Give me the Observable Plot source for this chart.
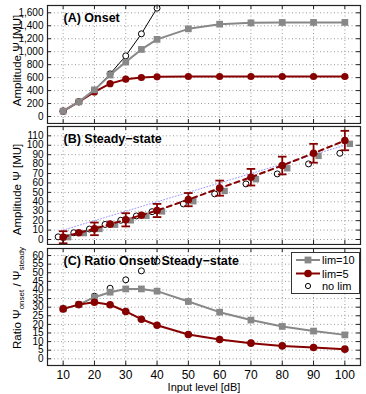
<!DOCTYPE html>
<html><head><meta charset="utf-8">
<script src="https://cdn.jsdelivr.net/npm/d3@7"></script>
<script src="https://cdn.jsdelivr.net/npm/@observablehq/plot@0.6"></script>
<style>
body{margin:0;background:#fff;}
#chart{position:relative;width:366px;height:394px;font-family:"Liberation Sans",Arial,sans-serif;}
#chart > svg{position:absolute;left:0;}
.legend{position:absolute;left:291px;top:252px;width:67px;height:40px;border:1px solid #333;background:#fff;}
.legend text{font-family:"Liberation Sans",Arial,sans-serif;font-size:11px;fill:#000;}
</style></head><body><div id="chart"></div>
<script>
// ---- data ----
const inputLevels = [10,15,20,25,30,35,40,50,60,70,80,90,100];
const noLimLevels = [10,15,20,25,30,35,40];
const xTicks = [10,20,30,40,50,60,70,80,90,100];

const onsetLim10 = [82,226,411,640,840,1035,1190,1353,1425,1445,1451,1452,1452];
const onsetLim5  = [82,226,380,507,576,602,612,617,617,617,617,617,617];
const onsetNoLim = [82,226,405,658,936,1276,1672];
const onsetTicks = [0,200,400,600,800,1000,1200,1400,1600];

const steadyLim10 = [2.5,6.8,11.2,15.7,20.3,25.2,29.8,40.6,51.5,64,75.6,88.7,101.5];
const steadyLim5  = [2.4,7.1,11.3,16.3,20.9,25.8,30.8,42.3,54.5,66.1,78.5,91.5,105];
const steadyLim5Err = [6.4,null,6.7,null,7,null,7,7,8,8.8,9.4,10,10.3];
const steadyNoLim = [2.8,7.2,11.1,16,20.4,25,29.5,37.8,48.4,59,69.6,80.2,91.5];
const steadyTicks = [0,10,20,30,40,50,60,70,80,90,100,110];
const refLineX = [10,100];
const refLineY = [10,100];

const ratioLim10 = [29,31.5,35.8,38.7,40.6,40.6,39.3,33.3,27.1,22.5,18.8,16.1,13.9];
const ratioLim5  = [29,31.5,32.9,31.4,27.5,23,19.5,14.1,11.2,9.1,7.5,6.6,5.6];
const ratioNoLim = [29,31.5,36.4,41,45.9,51.1,56.7];
const ratioTicks = [0,5,10,15,20,25,30,35,40,45,50,55,60];

// ---- tables ----
const rows = (xs, ys) => xs.map((x,i)=>({x, y: ys[i]}));
const errRows = inputLevels.map((x,i)=>({x, y: steadyLim5[i], e: steadyLim5Err[i]})).filter(d=>d.e!=null);
const refRows = rows(refLineX, refLineY);

// ---- style ----
const W = 366, ML = 47, MR = 6, PW = W - ML - MR;
const red = "#860000", gray = "#888888", ink = "#222";
const font = '"Liberation Sans", Arial, sans-serif';
const capSymbol = {draw(ctx){ ctx.moveTo(-4.3,0); ctx.lineTo(4.3,0); }};

function panel({top, height, mt, mb, yDomain, yTicks, marks, bottomAxis}) {
  const PH = height - mt - mb;
  const grid = [
    Plot.ruleX(xTicks, {x: d=>d, stroke:"#9a9a9a", strokeDasharray:"1,2.5", strokeWidth:1}),
    Plot.ruleY(yTicks, {y: d=>d, stroke:"#9a9a9a", strokeDasharray:"1,2.5", strokeWidth:1})
  ];
  const tail = [
    Plot.frame({stroke: ink, strokeWidth: 1.2}),
    Plot.tickY(yTicks, {y: d=>d, insetRight: PW-4, stroke: ink}),
    Plot.tickY(yTicks, {y: d=>d, insetLeft: PW-4, stroke: ink}),
    Plot.tickX(xTicks, {x: d=>d, insetBottom: PH-4, stroke: ink}),
    Plot.tickX(xTicks, {x: d=>d, insetTop: PH-4, stroke: ink}),
    Plot.axisY({ticks: yTicks, tickSize:0, tickPadding:4, fontSize:10, label:null})
  ];
  if (bottomAxis) tail.push(
    Plot.axisX({ticks: xTicks, tickSize:0, tickPadding:5, fontSize:12, label:null}),
    Plot.text(["Input level [dB]"], {frameAnchor:"bottom", lineAnchor:"middle", dy:22, fontSize:11})
  );
  const svg = Plot.plot({
    width: W, height, marginLeft: ML, marginRight: MR, marginTop: mt, marginBottom: mb,
    x: bottomAxis ? {domain:[5,105]} : {domain:[5,105], axis:null},
    y: {domain: yDomain},
    style: {fontFamily: font, color:"#000", background:"transparent"},
    marks: [...grid, ...marks, ...tail]
  });
  svg.style.top = top + "px";
  document.getElementById("chart").appendChild(svg);
  return svg;
}

const titleOpts = {frameAnchor:"top-left", textAnchor:"start", lineAnchor:"middle", dx:16, fontWeight:"bold", fontSize:12.5};
const ylabOpts = {frameAnchor:"left", textAnchor:"middle", rotate:-90, lineAnchor:"middle", dx:-30, fontSize:11.5};

// Panel A
panel({top:0, height:124, mt:5, mb:1, yDomain:[-108,1713], yTicks:onsetTicks, marks:[
  Plot.line(rows(noLimLevels, onsetNoLim), {x:"x", y:"y", stroke:"#000", strokeWidth:1}),
  Plot.dot(rows(noLimLevels, onsetNoLim), {x:"x", y:"y", r:3, stroke:"#000", fill:"#fff", strokeWidth:1}),
  Plot.line(rows(inputLevels, onsetLim5), {x:"x", y:"y", stroke:red, strokeWidth:2}),
  Plot.dot(rows(inputLevels, onsetLim5), {x:"x", y:"y", r:3.6, fill:red}),
  Plot.line(rows(inputLevels, onsetLim10), {x:"x", y:"y", stroke:gray, strokeWidth:2}),
  Plot.dot(rows(inputLevels, onsetLim10), {x:"x", y:"y", r:3.8, symbol:"square", fill:gray}),
  Plot.text(["(A) Onset"], {...titleOpts, dy:12}),
  Plot.text(["Amplitude Ψ [MU]"], {...ylabOpts, dy:-4})
]});

// Panel B
panel({top:124, height:121, mt:2, mb:1, yDomain:[-5.3,119.9], yTicks:steadyTicks, marks:[
  Plot.line(refRows, {x:"x", y:"y", stroke:"#9a9aff", strokeDasharray:"1,2", strokeWidth:1}),
  Plot.dot(rows(inputLevels, steadyLim10), {x:"x", y:"y", r:3.6, symbol:"square", fill:gray, dx:5}),
  Plot.dot(rows(inputLevels, steadyNoLim), {x:"x", y:"y", r:3, stroke:"#000", fill:"#fff", strokeWidth:1, dx:-5}),
  Plot.line(rows(inputLevels, steadyLim5), {x:"x", y:"y", stroke:red, strokeWidth:2, strokeDasharray:"5,4"}),
  Plot.ruleX(errRows, {x:"x", y1:d=>d.y-d.e, y2:d=>d.y+d.e, stroke:red, strokeWidth:1.8}),
  Plot.dot(errRows, {x:"x", y:d=>d.y-d.e, symbol:capSymbol, stroke:red, strokeWidth:1.8, fill:"none"}),
  Plot.dot(errRows, {x:"x", y:d=>d.y+d.e, symbol:capSymbol, stroke:red, strokeWidth:1.8, fill:"none"}),
  Plot.dot(rows(inputLevels, steadyLim5), {x:"x", y:"y", r:3.8, fill:red}),
  Plot.text(["(B) Steady−state"], {...titleOpts, dy:12.3}),
  Plot.text(["Amplitude Ψ [MU]"], {...ylabOpts, dy:4})
]});

// Panel C
const svgC = panel({top:246, height:148, mt:2, mb:29, yDomain:[-3.9,64.1], yTicks:ratioTicks, bottomAxis:true, marks:[
  Plot.dot(rows(noLimLevels, ratioNoLim), {x:"x", y:"y", r:3, stroke:"#000", fill:"#fff", strokeWidth:1}),
  Plot.line(rows(inputLevels, ratioLim10), {x:"x", y:"y", stroke:gray, strokeWidth:2}),
  Plot.dot(rows(inputLevels, ratioLim10), {x:"x", y:"y", r:3.8, symbol:"square", fill:gray}),
  Plot.line(rows(inputLevels, ratioLim5), {x:"x", y:"y", stroke:red, strokeWidth:2}),
  Plot.dot(rows(inputLevels, ratioLim5), {x:"x", y:"y", r:3.8, fill:red}),
  Plot.text(["(C) Ratio Onset/ Steady−state"], {...titleOpts, dy:12.7})
]});
// y label with subscripts
const lab = d3.select(svgC).append("text")
  .attr("transform", "translate(21,52) rotate(-90)")
  .attr("text-anchor", "middle")
  .attr("font-family", font).attr("font-size", 11.5).attr("fill", "#000");
lab.append("tspan").text("Ratio Ψ");
lab.append("tspan").attr("font-size", 8).attr("dy", 3).text("onset");
lab.append("tspan").attr("dy", -3).text(" / Ψ");
lab.append("tspan").attr("font-size", 8).attr("dy", 3).text("steady");

// legend
const leg = document.createElement("div");
leg.className = "legend";
leg.innerHTML = `<svg width="67" height="40">
  <line x1="4" x2="28" y1="7" y2="7" stroke="${gray}" stroke-width="2"/>
  <rect x="12.6" y="3.6" width="6.8" height="6.8" fill="${gray}"/>
  <text x="30" y="11">lim=10</text>
  <line x1="4" x2="28" y1="20.5" y2="20.5" stroke="${red}" stroke-width="2"/>
  <circle cx="16" cy="20.5" r="3.8" fill="${red}"/>
  <text x="30" y="24.5">lim=5</text>
  <circle cx="16" cy="33" r="2.6" fill="#fff" stroke="#000"/>
  <text x="30" y="37">no lim</text>
</svg>`;
document.getElementById("chart").appendChild(leg);
</script>
</body></html>
